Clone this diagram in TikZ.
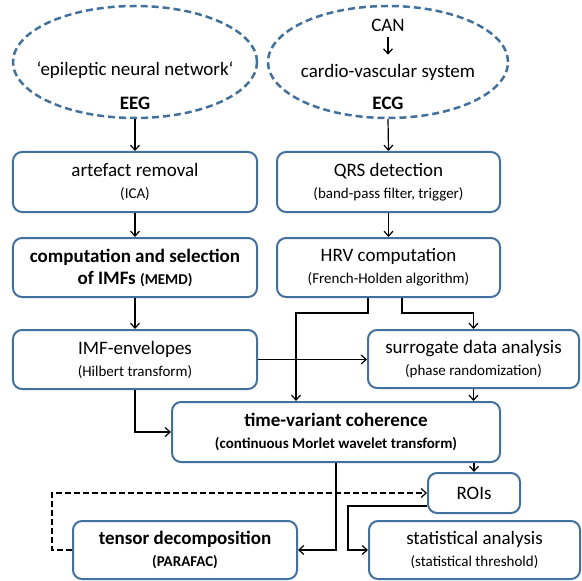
\documentclass[tikz,border=0pt]{standalone}
\usepackage{fontspec}
\setmainfont{Carlito}
\usetikzlibrary{arrows.meta,shapes.geometric}
\definecolor{boxblue}{RGB}{65,113,156}
\newcommand\mainsz{\fontsize{19bp}{22bp}\selectfont}
\newcommand\subsz{\fontsize{15bp}{18bp}\selectfont}
\begin{document}
\begin{tikzpicture}[x=1bp,y=-1bp,
  box/.style={draw=boxblue,line width=2bp,rounded corners=9bp,fill=white,inner sep=0pt,align=center,font=\mainsz},
  ell/.style={draw=boxblue,line width=2.5bp,dash pattern=on 7bp off 4bp,ellipse,inner sep=0pt},
  txt/.style={inner sep=0pt,font=\mainsz},
  conn/.style={draw=black,line width=1.2bp,-{Straight Barb[length=5bp,width=9bp,line width=1.2bp]}},
  dconn/.style={conn,line width=2bp,dash pattern=on 6bp off 3bp}
]
\useasboundingbox (0,0) rectangle (582,581);
% ellipses
\node[ell,minimum width=244bp,minimum height=112bp] (e1) at (135,62) {};
\node[ell,minimum width=240bp,minimum height=112bp] (e2) at (388,62) {};
\node[txt] (enn) at (135,70) {‘epileptic neural network‘};
\node[txt,font=\mainsz\bfseries] (eeg) at (135,103) {EEG};
\node[txt] (can) at (388,25) {CAN};
\node[txt] (cvs) at (388,72) {cardio-vascular system};
\node[txt,font=\mainsz\bfseries] (ecg) at (388,103) {ECG};
% boxes
\node[box,minimum width=244bp,minimum height=60bp] (art) at (135,182) {artefact removal\\{\subsz (ICA)}};
\node[box,minimum width=223bp,minimum height=60bp] (qrs) at (388.5,182) {QRS detection\\{\subsz (band-pass filter, trigger)}};
\node[box,minimum width=244bp,minimum height=59bp,font=\mainsz\bfseries] (comp) at (135,267.5) {computation and selection\\of IMFs {\subsz (MEMD)}};
\node[box,minimum width=223bp,minimum height=59bp] (hrv) at (388.5,267.5) {HRV computation\\{\subsz (French-Holden algorithm)}};
\node[box,minimum width=244bp,minimum height=59bp] (imf) at (135,359.5) {IMF-envelopes\\{\subsz (Hilbert transform)}};
\node[box,minimum width=211bp,minimum height=58bp] (surr) at (473.5,359) {surrogate data analysis\\{\subsz (phase randomization)}};
\node[box,minimum width=328bp,minimum height=60bp,font=\mainsz\bfseries] (tvc) at (336,432) {time-variant coherence\\{\subsz (continuous Morlet wavelet transform)}};
\node[box,minimum width=92bp,minimum height=40bp] (rois) at (474,493) {ROIs};
\node[box,minimum width=224bp,minimum height=58bp,font=\mainsz\bfseries] (tens) at (185,550) {tensor decomposition\\{\subsz (PARAFAC)}};
\node[box,minimum width=211bp,minimum height=58bp] (stat) at (474.5,550) {statistical analysis\\{\subsz (statistical threshold)}};
% helper coordinates
\coordinate (h1) at (368,313);
\coordinate (h2) at (402,313);
\coordinate (k1) at (296,313);
\coordinate (r1) at (348,506);
\coordinate (d1) at (52,493);
% connectors
\draw[conn,shorten <=6bp,shorten >=9bp] (can) -- (cvs);
\draw[conn] (e1.south) -- (art.north);
\draw[conn] (e2.south) -- (qrs.north);
\draw[conn] (art.south) -- (comp.north);
\draw[conn] (qrs.south) -- (hrv.north);
\draw[conn] (comp.south) -- (imf.north);
\draw[conn] (imf.east) -- (imf.east -| surr.west);
\draw[conn] (hrv.south -| h1) -- (h1) -| (tvc.north -| k1);
\draw[conn] (hrv.south -| h2) -- (h2) -| (surr.north);
\draw[conn] (surr.south) -- (surr.south |- tvc.north);
\draw[conn] (imf.south) |- (tvc.west);
\draw[conn] (tvc.south -| rois.north) -- (rois.north);
\draw[conn] (tvc.south) |- (tens.east);
\draw[conn] (rois.west |- r1) -- (r1) |- (stat.west);
\draw[dconn] (tens.west) -| (d1) -- (rois.west |- d1);
\end{tikzpicture}
\end{document}
